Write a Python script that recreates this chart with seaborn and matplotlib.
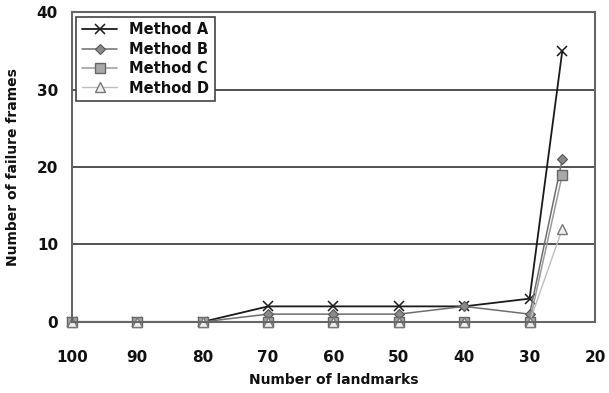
import matplotlib
matplotlib.use("Agg")
import matplotlib.pyplot as plt
import seaborn as sns

# Data
landmarks = [100, 90, 80, 70, 60, 50, 40, 30, 25]
method_a = [0, 0, 0, 2, 2, 2, 2, 3, 35]
method_b = [0, 0, 0, 1, 1, 1, 2, 1, 21]
method_c = [0, 0, 0, 0, 0, 0, 0, 0, 19]
method_d = [0, 0, 0, 0, 0, 0, 0, 0, 12]
x_ticks = [100, 90, 80, 70, 60, 50, 40, 30, 20]
y_ticks = [0, 10, 20, 30, 40]

sns.set_style("white")
plt.rcParams['font.family'] = ['DejaVu Sans']
plt.rcParams['text.color'] = '#111111'
plt.rcParams['axes.labelcolor'] = '#111111'
plt.rcParams['xtick.color'] = '#111111'
plt.rcParams['ytick.color'] = '#111111'

fig = plt.figure(figsize=(6.09, 3.93), dpi=100)
ax = fig.add_axes([0.118, 0.181, 0.859, 0.788])

series = [
    ("Method A", method_a, dict(color="#1a1a1a", marker="x", markersize=7,
                                markeredgecolor="#1a1a1a", markeredgewidth=1.1, linewidth=1.3)),
    ("Method B", method_b, dict(color="#6e6e6e", marker="D", markersize=5,
                                markerfacecolor="#8a8a8a", markeredgecolor="#555555",
                                markeredgewidth=0.8, linewidth=1.1)),
    ("Method C", method_c, dict(color="#9a9a9a", marker="s", markersize=7,
                                markerfacecolor="#a8a8a8", markeredgecolor="#666666",
                                markeredgewidth=1.0, linewidth=1.1)),
    ("Method D", method_d, dict(color="#bdbdbd", marker="^", markersize=7,
                                markerfacecolor="#f0f0f0", markeredgecolor="#777777",
                                markeredgewidth=1.0, linewidth=1.0)),
]

for name, vals, style in series:
    sns.lineplot(x=landmarks, y=vals, ax=ax, label=name, clip_on=False, **style)

ax.set_xlim(100, 20)
ax.set_ylim(0, 40)
ax.set_xticks(x_ticks)
ax.set_yticks(y_ticks)
ax.yaxis.grid(True, color="#333333", linewidth=1.2)
ax.xaxis.grid(False)
ax.set_axisbelow(True)
for sp in ax.spines.values():
    sp.set_color("#666666")
    sp.set_linewidth(1.5)

ax.tick_params(axis="x", length=0, pad=20, labelsize=11)
ax.tick_params(axis="y", length=0, pad=10, labelsize=11)
for lbl in ax.get_xticklabels() + ax.get_yticklabels():
    lbl.set_fontweight("bold")

ax.set_xlabel("Number of landmarks", fontsize=10, fontweight="bold", labelpad=6)
ax.set_ylabel("Number of failure frames", fontsize=10, fontweight="bold", labelpad=12)

leg = ax.legend(loc="upper left", frameon=True, fancybox=False,
                borderaxespad=0.3, handlelength=2.4, labelspacing=0.3,
                borderpad=0.4, prop={"weight": "bold", "size": 10.5})
leg.get_frame().set_edgecolor("#444444")
leg.get_frame().set_linewidth(1.2)
leg.get_frame().set_alpha(1)

fig.savefig("out.png", dpi=100)
